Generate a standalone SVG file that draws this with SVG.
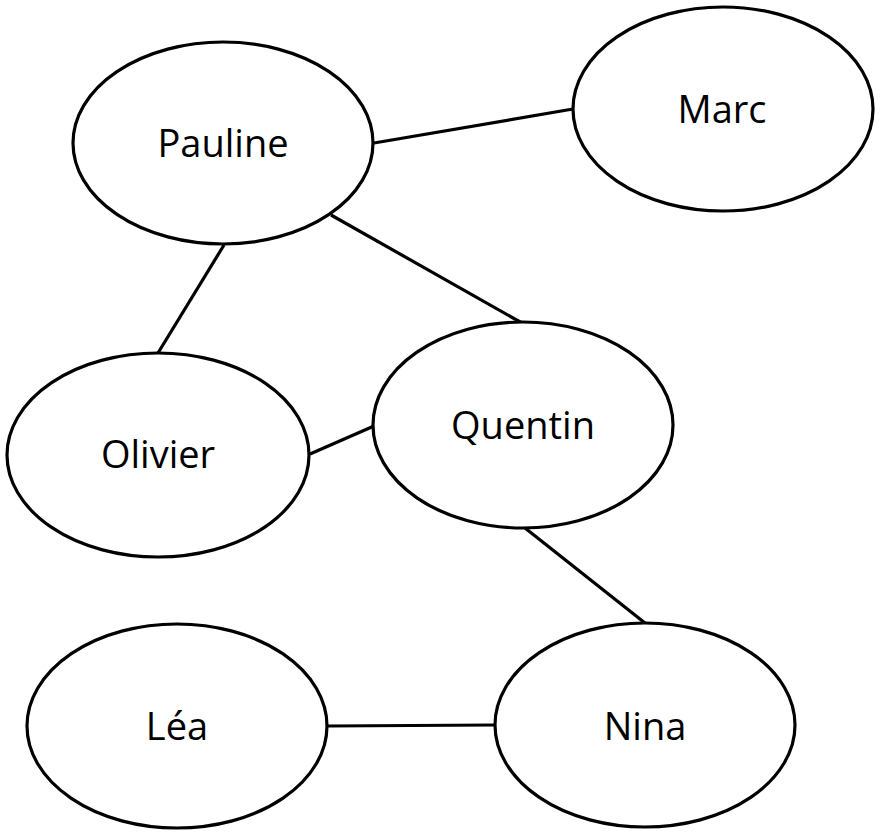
<svg xmlns="http://www.w3.org/2000/svg" width="882" height="838" viewBox="0 0 882 838">
<style>
.n ellipse{fill:#fff;stroke:#000;stroke-width:3.2}
.n text{font-family:"Open Sans","Liberation Sans",sans-serif;font-size:38px;fill:#000;text-anchor:middle}
#edges line{stroke:#000;stroke-width:3.2}
</style>
<rect width="882" height="838" fill="#fff"/>
<g id="edges">
<line x1="374" y1="143" x2="573" y2="109"/>
<line x1="331" y1="215" x2="522" y2="323"/>
<line x1="224" y1="245" x2="158" y2="353"/>
<line x1="310" y1="454" x2="374" y2="426"/>
<line x1="525" y1="528" x2="645" y2="623"/>
<line x1="328" y1="726" x2="495" y2="725"/>
</g>
<g id="pauline" class="n"><ellipse cx="223" cy="143" rx="150" ry="101"/><text x="223" y="157">Pauline</text></g>
<g id="marc" class="n"><ellipse cx="723" cy="109" rx="150" ry="102"/><text x="722" y="123">Marc</text></g>
<g id="olivier" class="n"><ellipse cx="158" cy="455" rx="151" ry="102"/><text x="158" y="468">Olivier</text></g>
<g id="quentin" class="n"><ellipse cx="523" cy="425" rx="150" ry="103"/><text x="523" y="439">Quentin</text></g>
<g id="lea" class="n"><ellipse cx="177" cy="726" rx="150" ry="102"/><text x="177" y="740">Léa</text></g>
<g id="nina" class="n"><ellipse cx="645" cy="725" rx="150" ry="102"/><text x="645" y="740">Nina</text></g>
</svg>
